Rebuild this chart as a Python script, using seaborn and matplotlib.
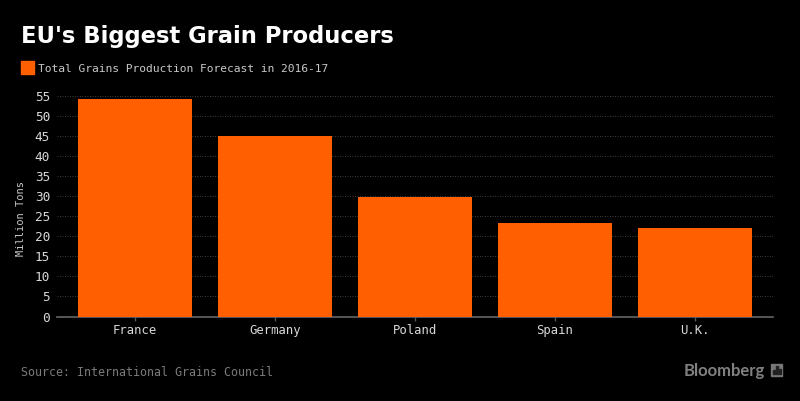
import numpy as np
import pandas as pd
import seaborn as sns

from matplotlib import pyplot as plt
from matplotlib.patches import Rectangle

grains = pd.DataFrame({
  'country': ['France', 'Germany', 'Poland', 'Spain', 'U.K.'],
  'production': [54.3, 45.0, 29.8, 23.2, 22.0]
})

orange = '#ff5f00'
plt.rcParams['font.family'] = 'DejaVu Sans Mono'

plt.figure(figsize=(8.00, 4.01), dpi=100, facecolor='black')
plt.axes([57/800, 1 - 316.5/401, 716/800, 220.5/401], facecolor='black')

sns.barplot(data=grains, x='country', y='production', color=orange, saturation=1, width=0.814, zorder=3)

plt.xlim(-0.557, 4.557)
plt.ylim(0, 55)
plt.yticks(np.arange(0, 60, 5))
plt.grid(axis='y', color='#555555', linestyle=(0, (1, 2)), linewidth=0.6, zorder=0)
plt.tick_params(axis='y', length=0, pad=5, labelsize=9.2, labelcolor='#d8d8d8')
plt.tick_params(axis='x', length=3, width=1, color='#555555', pad=2.5, labelsize=8.8, labelcolor='#d8d8d8')
plt.xlabel('')
plt.ylabel('Million Tons', color='#c8c8c8', fontsize=7.5)

ax = plt.gca()
ax.yaxis.set_label_coords(-0.043, 0.445)
for side in ['top', 'right', 'left']:
  ax.spines[side].set_visible(False)
ax.spines['bottom'].set_color('#666666')
ax.spines['bottom'].set_linewidth(1.2)

# title and legend sit above the axes
fig = plt.gcf()
plt.figtext(21/800, 1 - 43/401, "EU's Biggest Grain Producers", color='white', fontsize=16.3, fontweight='bold', family='DejaVu Sans')
fig.add_artist(Rectangle((21/800, 1 - 74/401), 13/800, 13/401, transform=fig.transFigure, color=orange))
plt.figtext(38/800, 1 - 72/401, 'Total Grains Production Forecast in 2016-17', color='#c8c8c8', fontsize=8.15)

plt.figtext(21/800, 1 - 376.5/401, 'Source: International Grains Council', color='#7a7a7a', fontsize=8.4)
plt.figtext(684/800, 1 - 376/401, 'Bloomberg', color='#808080', fontsize=12, fontweight='bold', family='Lato')

# logo box with its three small bars
fig.add_artist(Rectangle((771/800, 1 - 376/401), 11/800, 12/401, transform=fig.transFigure, color='#777777'))
for left, tall in [(773, 4), (776, 8), (779, 5)]:
  fig.add_artist(Rectangle((left/800, 1 - 374/401), 1.5/800, tall/401, transform=fig.transFigure, color='#222222'))

plt.savefig('out.png', dpi=100, facecolor='black')
